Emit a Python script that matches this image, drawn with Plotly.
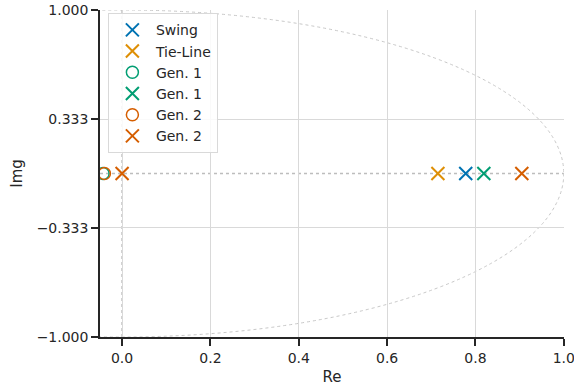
import plotly.graph_objects as go

# Data
series_names = ["Swing", "Tie-Line", "Gen. 1", "Gen. 1", "Gen. 2", "Gen. 2"]
series_kind = ["pole", "pole", "zero", "pole", "zero", "pole"]
series_re = [[0.778], [0.715], [-0.043], [0.819], [-0.040], [0.0, 0.905]]
series_im = [[0.0], [0.0], [0.0], [0.0], [0.0], [0.0, 0.0]]
series_colors = ["#0173b2", "#de8f05", "#029e73", "#029e73", "#d55e00", "#d55e00"]
x_ticks = [0.0, 0.2, 0.4, 0.6, 0.8, 1.0]
x_tick_labels = ["0.0", "0.2", "0.4", "0.6", "0.8", "1.0"]
y_ticks = [-1.0, -0.333, 0.333, 1.0]
y_tick_labels = ["\u22121.000", "\u22120.333", "0.333", "1.000"]

FONT = "DejaVu Sans"
TXT = "#262626"

fig = go.Figure()

# unit circle and reference lines
fig.add_shape(type="circle", xref="x", yref="y", x0=-1, x1=1, y0=-1, y1=1,
              line=dict(color="#c8c8c8", width=1, dash="dot"), layer="below")
fig.add_shape(type="line", xref="x", yref="y", x0=-0.05, x1=1.0, y0=0, y1=0,
              line=dict(color="#bdbdbd", width=1.5, dash="dot"), layer="below")
fig.add_shape(type="line", xref="x", yref="y", x0=0, x1=0, y0=-1, y1=1,
              line=dict(color="#bdbdbd", width=1.5, dash="dot"), layer="below")

for name, kind, xr, yi, col in zip(series_names, series_kind, series_re, series_im, series_colors):
    if kind == "pole":
        marker = dict(symbol="x-thin-open", size=13, color=col, line=dict(color=col, width=2))
    else:
        marker = dict(symbol="circle-open", size=12, color=col, line=dict(color=col, width=1.5))
    fig.add_trace(go.Scatter(x=xr, y=yi, mode="markers", name=name, marker=marker,
                             cliponaxis=True))

axis_common = dict(
    showgrid=True, gridcolor="#d9d9d9", gridwidth=1,
    showline=True, linecolor=TXT, linewidth=1.5,
    ticks="outside", ticklen=7, tickwidth=1.5, tickcolor=TXT,
    zeroline=False, automargin=False, ticklabeloverflow="allow",
    tickfont=dict(family=FONT, size=14, color=TXT),
)

fig.update_layout(
    width=574, height=389,
    margin=dict(l=100, r=10, t=10, b=52),
    paper_bgcolor="white", plot_bgcolor="white",
    font=dict(family=FONT, size=14, color=TXT),
    xaxis=dict(range=[-0.05, 1.0005], tickvals=x_ticks, ticktext=x_tick_labels,
               title=dict(text="Re", font=dict(family=FONT, size=15, color=TXT), standoff=7),
               **axis_common),
    yaxis=dict(range=[-1.0, 1.0], tickvals=y_ticks, ticktext=y_tick_labels,
               title=dict(text="Img", font=dict(family=FONT, size=15, color=TXT), standoff=10),
               **axis_common),
    legend=dict(x=0.017, y=0.99, xanchor="left", yanchor="top", itemwidth=37,
                bgcolor="rgba(255,255,255,0.85)", bordercolor="#d9d9d9", borderwidth=1,
                font=dict(family=FONT, size=14, color=TXT)),
    showlegend=True,
)

fig.write_html("out.html", config={"displayModeBar": False},
               post_script="document.body.style.margin='0';document.body.style.overflow='hidden';")
